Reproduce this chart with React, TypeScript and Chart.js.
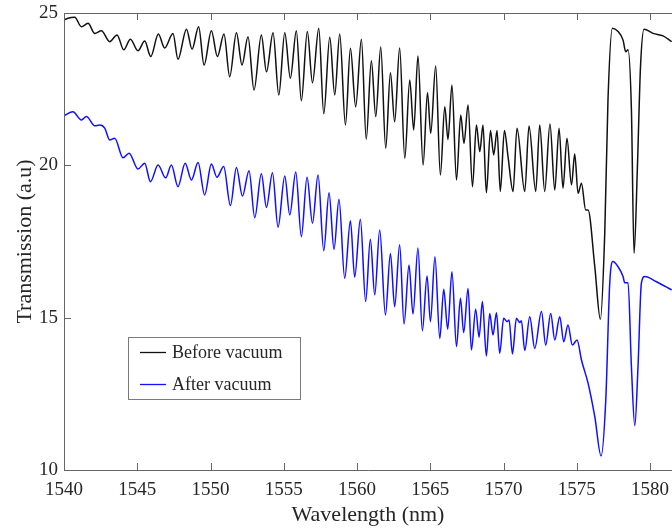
import React, { useEffect, useRef } from "react";
import { Chart, registerables } from "chart.js";

Chart.register(...registerables);

// ---- Data ----
const seriesLabels = ["Before vacuum", "After vacuum"];
const xTitle = "Wavelength (nm)";
const yTitle = "Transmission (a.u)";
const xMin = 1540;
const xMax = 1581.5;
const yMin = 10;
const yMax = 25;
const xStep = 5;
const yStep = 5;

const beforeWl = [1540.00,1540.27,1540.73,1541.19,1541.64,1542.10,1542.55,1543.12,1543.62,1544.08,1544.53,1545.05,1545.51,1545.92,1546.44,1546.87,1547.44,1547.78,1548.36,1548.74,1549.19,1549.56,1550.06,1550.47,1550.92,1551.31,1551.77,1552.15,1552.56,1552.97,1553.47,1553.82,1554.27,1554.66,1555.07,1555.45,1555.86,1556.20,1556.61,1556.96,1557.39,1557.73,1558.14,1558.48,1558.82,1559.21,1559.55,1559.91,1560.30,1560.63,1560.98,1561.28,1561.62,1561.96,1562.28,1562.57,1562.91,1563.26,1563.60,1563.87,1564.16,1564.51,1564.81,1565.03,1565.37,1565.69,1565.99,1566.21,1566.48,1566.79,1567.08,1567.30,1567.58,1567.88,1568.15,1568.38,1568.60,1568.83,1569.11,1569.33,1569.56,1569.78,1570.06,1570.31,1570.65,1570.92,1571.45,1571.74,1572.20,1572.47,1572.81,1573.17,1573.50,1573.79,1574.06,1574.33,1574.64,1574.86,1575.09,1575.32,1575.61,1575.77,1576.23,1576.61,1576.91,1577.13,1577.43,1577.82,1578.16,1578.34,1578.50,1578.73,1578.91,1579.14,1579.35,1579.59,1580.21,1580.89,1581.48];
const beforeVal = [24.77,24.83,24.86,24.55,24.66,24.33,24.42,24.06,24.28,23.79,24.14,23.76,24.08,23.57,24.31,23.85,24.33,23.48,24.47,23.81,24.55,23.29,24.42,23.57,24.31,22.91,24.35,23.29,24.22,22.47,24.28,23.07,24.35,22.31,24.35,22.86,24.42,22.12,24.39,22.71,24.50,21.69,24.20,22.31,24.31,21.32,23.84,21.92,24.14,20.86,23.43,21.60,23.88,20.56,23.04,21.43,23.85,20.23,22.80,21.16,23.59,20.01,22.38,21.05,23.26,19.68,21.92,20.85,22.64,19.52,21.65,20.72,21.98,19.30,21.32,20.45,21.32,19.10,21.14,20.34,21.14,19.14,21.14,20.28,19.14,21.22,19.14,21.29,19.14,21.32,19.14,21.36,19.19,21.22,19.25,20.89,19.36,20.37,19.08,19.41,18.53,18.53,16.67,14.95,17.78,22.14,24.50,24.39,24.11,23.73,23.79,21.82,17.11,19.96,23.24,24.47,24.33,24.25,24.06];

const afterWl = [1540.00,1540.61,1541.19,1541.53,1542.10,1542.44,1542.78,1543.12,1543.46,1544.03,1544.44,1545.05,1545.51,1545.90,1546.42,1546.94,1547.33,1547.78,1548.27,1548.70,1549.15,1549.60,1550.06,1550.44,1550.90,1551.36,1551.77,1552.18,1552.63,1553.02,1553.47,1553.82,1554.23,1554.61,1555.07,1555.41,1555.82,1556.20,1556.59,1556.96,1557.34,1557.73,1558.09,1558.43,1558.77,1559.16,1559.55,1559.84,1560.23,1560.59,1560.91,1561.21,1561.55,1561.94,1562.28,1562.57,1562.91,1563.21,1563.55,1563.82,1564.16,1564.46,1564.78,1565.01,1565.32,1565.65,1565.92,1566.19,1566.48,1566.79,1567.06,1567.28,1567.58,1567.81,1568.10,1568.33,1568.56,1568.83,1569.06,1569.28,1569.52,1569.74,1570.01,1570.24,1570.38,1570.61,1570.88,1571.11,1571.22,1571.45,1571.79,1572.13,1572.59,1572.88,1573.22,1573.50,1573.84,1574.11,1574.40,1574.70,1575.02,1575.32,1575.77,1576.23,1576.66,1576.98,1577.25,1577.47,1577.82,1578.16,1578.27,1578.50,1578.73,1578.96,1579.18,1579.41,1579.64,1580.44,1581.48];
const afterVal = [21.63,21.76,21.49,21.60,21.30,21.32,21.22,20.83,20.89,20.25,20.40,19.88,20.07,19.46,20.01,19.59,20.01,19.30,20.07,19.52,20.09,19.03,20.04,19.61,19.96,18.68,19.93,18.99,19.82,18.28,19.72,18.62,19.76,17.97,19.65,18.37,19.78,17.66,19.61,18.10,19.68,17.20,19.10,17.24,18.89,16.29,18.18,16.33,18.23,15.53,17.57,15.75,17.88,15.09,17.11,15.36,17.39,14.79,16.73,15.12,17.29,14.57,16.37,14.87,17.00,14.32,15.93,14.62,16.51,14.05,15.64,14.51,15.96,13.94,15.28,14.36,15.53,13.74,15.14,14.43,15.16,13.83,14.98,14.87,14.92,13.81,14.98,14.84,14.90,13.92,15.03,13.99,15.20,14.10,15.14,14.27,15.03,14.21,14.76,14.10,14.27,13.61,12.85,11.75,10.46,12.30,16.13,16.84,16.67,16.35,16.15,16.15,13.39,11.45,13.39,16.13,16.35,16.18,15.91];

const seriesColors = ["#111111", "#1010ff"];

// ---- Styling ----
const FONT = "'Liberation Serif', 'Times New Roman', serif";
const AXIS_COLOR = "#666666";
const TEXT_COLOR = "#262626";
const TICK_LEN = 7;
const LINE_W = 1.5;

const frameAndLegend = {
  id: "frameAndLegend",
  afterDraw(chart: any) {
    const { ctx, chartArea, scales } = chart;
    const { left, right, top, bottom } = chartArea;
    const xs = scales.x;
    const ys = scales.y;
    ctx.save();
    ctx.strokeStyle = AXIS_COLOR;
    ctx.lineWidth = 1;
    ctx.beginPath();
    ctx.moveTo(Math.round(left) + 0.5, Math.round(top) + 0.5);
    ctx.lineTo(Math.round(left) + 0.5, Math.round(bottom) + 0.5);
    ctx.lineTo(right, Math.round(bottom) + 0.5);
    ctx.moveTo(Math.round(left) + 0.5, Math.round(top) + 0.5);
    ctx.lineTo(right, Math.round(top) + 0.5);
    for (const t of xs.ticks) {
      const px = Math.round(xs.getPixelForValue(t.value)) + 0.5;
      ctx.moveTo(px, bottom);
      ctx.lineTo(px, bottom - TICK_LEN);
      ctx.moveTo(px, top);
      ctx.lineTo(px, top + TICK_LEN);
    }
    for (const t of ys.ticks) {
      const py = Math.round(ys.getPixelForValue(t.value)) + 0.5;
      ctx.moveTo(left, py);
      ctx.lineTo(left + TICK_LEN, py);
    }
    ctx.stroke();

    const bx = 128.5, by = 337.5, bw = 172, bh = 62;
    ctx.fillStyle = "#ffffff";
    ctx.fillRect(bx, by, bw, bh);
    ctx.strokeStyle = "#7a7a7a";
    ctx.strokeRect(bx, by, bw, bh);
    ctx.font = `18px ${FONT}`;
    ctx.textBaseline = "middle";
    ctx.textAlign = "left";
    const rowsY = [352, 384];
    seriesLabels.forEach((label, i) => {
      ctx.strokeStyle = seriesColors[i];
      ctx.lineWidth = 1.3;
      ctx.beginPath();
      ctx.moveTo(140, rowsY[i] + 0.5);
      ctx.lineTo(166, rowsY[i] + 0.5);
      ctx.stroke();
      ctx.fillStyle = TEXT_COLOR;
      ctx.fillText(label, 172, rowsY[i] + 1);
    });
    ctx.restore();
  },
};

export default function App() {
  const ref = useRef<HTMLCanvasElement | null>(null);

  useEffect(() => {
    const canvas = ref.current;
    if (!canvas) return;
    const mk = (xs: number[], ys: number[]) => xs.map((x, i) => ({ x, y: ys[i] }));
    const chart = new Chart(canvas, {
      type: "line",
      data: {
        datasets: [
          {
            label: seriesLabels[0],
            data: mk(beforeWl, beforeVal),
            borderColor: seriesColors[0],
            borderWidth: LINE_W,
            pointRadius: 0,
            cubicInterpolationMode: "monotone",
            fill: false,
          },
          {
            label: seriesLabels[1],
            data: mk(afterWl, afterVal),
            borderColor: seriesColors[1],
            borderWidth: LINE_W,
            pointRadius: 0,
            cubicInterpolationMode: "monotone",
            fill: false,
          },
        ],
      },
      options: {
        responsive: false,
        animation: false,
        devicePixelRatio: 1,
        layout: { padding: { top: 13, right: 0, left: 0, bottom: 0 } },
        plugins: {
          legend: { display: false },
          tooltip: { enabled: false },
        },
        scales: {
          x: {
            type: "linear",
            min: xMin,
            max: xMax,
            grid: { display: false, drawTicks: false },
            border: { display: false },
            ticks: {
              stepSize: xStep,
              includeBounds: false,
              padding: 9,
              color: TEXT_COLOR,
              font: { family: FONT, size: 19 },
              maxRotation: 0,
              autoSkip: false,
              callback: (v: any) => String(v),
            },
            title: {
              display: true,
              text: xTitle,
              color: TEXT_COLOR,
              font: { family: FONT, size: 22 },
              padding: { top: 0, bottom: 1 },
            },
            afterFit: (s: any) => {
              s.height = 59;
              s.paddingLeft = 0;
              s.paddingRight = 0;
            },
          },
          y: {
            min: yMin,
            max: yMax,
            grid: { display: false, drawTicks: false },
            border: { display: false },
            ticks: {
              stepSize: yStep,
              padding: 6,
              color: TEXT_COLOR,
              font: { family: FONT, size: 19 },
              callback: (v: any) => String(v),
            },
            title: {
              display: true,
              text: yTitle,
              color: TEXT_COLOR,
              font: { family: FONT, size: 22 },
              padding: { top: 12, bottom: 0 },
            },
            afterFit: (s: any) => {
              s.width = 64;
              s.paddingTop = 0;
              s.paddingBottom = 0;
            },
          },
        },
      },
      plugins: [frameAndLegend],
    });
    return () => chart.destroy();
  }, []);

  return (
    <div style={{ position: "fixed", left: 0, top: 0, width: 672, height: 529, background: "#fff" }}>
      <canvas ref={ref} width={672} height={529} style={{ display: "block" }} />
    </div>
  );
}
